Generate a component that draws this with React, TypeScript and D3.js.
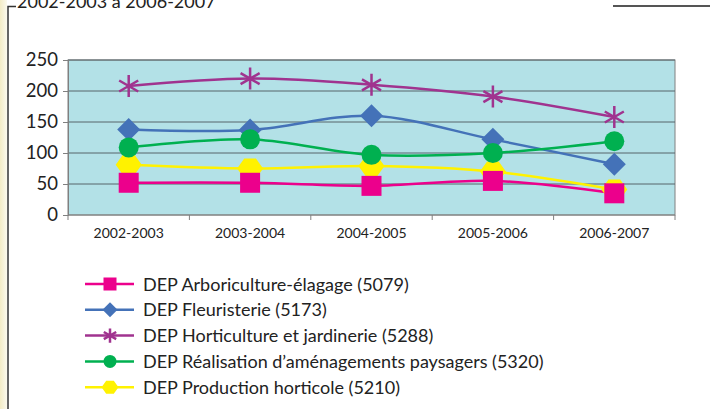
import React, { useEffect, useRef } from "react";
import * as d3 from "d3";

const years = ["2002-2003", "2003-2004", "2004-2005", "2005-2006", "2006-2007"];
const arbori = [52, 52, 47, 55, 35];
const fleur = [138, 137, 160, 122, 82];
const horti = [208, 220, 210, 191, 158];
const amenag = [109, 122, 97, 100, 119];
const prod = [81, 75, 79, 70, 41];
const yTicks = [0, 50, 100, 150, 200, 250];

const series = [
  { name: "DEP Arboriculture-élagage (5079)", values: arbori, color: "#ec008c", shape: "square" },
  { name: "DEP Fleuristerie (5173)", values: fleur, color: "#4472b8", shape: "diamond" },
  { name: "DEP Horticulture et jardinerie (5288)", values: horti, color: "#a0338f", shape: "star" },
  { name: "DEP Réalisation d’aménagements paysagers (5320)", values: amenag, color: "#00b050", shape: "circle" },
  { name: "DEP Production horticole (5210)", values: prod, color: "#fff200", shape: "hex" },
];

// which series is painted on top goes last
const drawOrder = [4, 1, 2, 3, 0];

function marker(g: any, shape: string, color: string, x: number, y: number, s: number) {
  if (shape === "square") {
    g.append("rect").attr("x", x - s).attr("y", y - s).attr("width", s * 2).attr("height", s * 2).attr("fill", color);
  } else if (shape === "diamond") {
    const r = s * 1.15;
    g.append("path").attr("d", `M${x},${y - r}L${x + r},${y}L${x},${y + r}L${x - r},${y}Z`).attr("fill", color);
  } else if (shape === "circle") {
    g.append("circle").attr("cx", x).attr("cy", y).attr("r", s).attr("fill", color);
  } else if (shape === "hex") {
    const w = s * 1.3, h = s;
    g.append("path")
      .attr("d", `M${x - w},${y}L${x - w * 0.45},${y - h}L${x + w * 0.45},${y - h}L${x + w},${y}L${x + w * 0.45},${y + h}L${x - w * 0.45},${y + h}Z`)
      .attr("fill", color);
  } else {
    const r = s * 1.1;
    const p = [0, 60, 120].map((a) => {
      const t = (a * Math.PI) / 180;
      return `M${x - r * Math.sin(t)},${y - r * Math.cos(t)}L${x + r * Math.sin(t)},${y + r * Math.cos(t)}`;
    });
    g.append("path").attr("d", p.join("")).attr("stroke", color).attr("stroke-width", 2.5).attr("fill", "none");
  }
}

export default function App() {
  const ref = useRef<SVGSVGElement>(null);

  useEffect(() => {
    const svg = d3.select(ref.current);
    svg.selectAll("*").remove();

    const left = 68, right = 675, top = 60, bottom = 215;
    const x = d3.scaleBand().domain(years).range([left, right]);
    const y = d3.scaleLinear().domain([0, 250]).range([bottom, top]);
    const font = "Lato, 'Liberation Sans', sans-serif";

    // page decoration
    const grad = svg.append("defs").append("linearGradient").attr("id", "edge").attr("x1", 0).attr("x2", 1);
    grad.append("stop").attr("offset", 0).attr("stop-color", "#f3ecc6");
    grad.append("stop").attr("offset", 1).attr("stop-color", "#fbf9ee");
    svg.append("rect").attr("x", 0).attr("y", 0).attr("width", 7).attr("height", 409).attr("fill", "url(#edge)");
    svg.append("path").attr("d", "M8,409V6.5H16").attr("stroke", "#333").attr("stroke-width", 1.5).attr("fill", "none");
    svg.append("line").attr("x1", 613).attr("x2", 710).attr("y1", 6).attr("y2", 6).attr("stroke", "#555").attr("stroke-width", 2);
    svg.append("text").attr("x", 17).attr("y", 8).attr("font-family", font).attr("font-size", 18)
      .attr("fill", "#222").text("2002-2003 à 2006-2007");

    // plot area
    svg.append("rect").attr("x", left).attr("y", top).attr("width", right - left).attr("height", bottom - top)
      .attr("fill", "#b3e1e7").attr("stroke", "#808080").attr("stroke-width", 1);

    svg.append("g").selectAll("line").data(yTicks.slice(1)).join("line")
      .attr("x1", left).attr("x2", right).attr("y1", (d) => y(d)).attr("y2", (d) => y(d))
      .attr("stroke", "#56656a").attr("stroke-width", 1);

    const yAxis = svg.append("g").attr("transform", `translate(${left},0)`)
      .call(d3.axisLeft(y).tickValues(yTicks).tickSize(5).tickPadding(5));
    yAxis.select(".domain").attr("stroke", "#808080");
    yAxis.selectAll(".tick line").attr("stroke", "#808080");
    yAxis.selectAll("text").attr("font-family", font).attr("font-size", 18.5).attr("fill", "#222");

    const xTickPos = years.map((d) => x(d) as number).concat([right]);
    svg.append("line").attr("x1", left).attr("x2", right).attr("y1", bottom).attr("y2", bottom).attr("stroke", "#808080");
    svg.append("g").selectAll("line").data(xTickPos).join("line")
      .attr("x1", (d) => d).attr("x2", (d) => d).attr("y1", bottom).attr("y2", bottom + 5).attr("stroke", "#808080");
    svg.append("g").selectAll("text").data(years).join("text")
      .attr("x", (d) => (x(d) as number) + x.bandwidth() / 2).attr("y", 238)
      .attr("text-anchor", "middle").attr("font-family", font).attr("font-size", 14).attr("fill", "#222")
      .text((d) => d);

    const cx = (i: number) => (x(years[i]) as number) + x.bandwidth() / 2;
    const line = d3.line<number>().x((_, i) => cx(i)).y((d) => y(d)).curve(d3.curveCatmullRom.alpha(0.5));

    drawOrder.forEach((k) => {
      const s = series[k];
      svg.append("path").attr("d", line(s.values)).attr("stroke", s.color).attr("stroke-width", 2.5).attr("fill", "none");
    });
    drawOrder.forEach((k) => {
      const s = series[k];
      const g = svg.append("g");
      s.values.forEach((v, i) => marker(g, s.shape, s.color, cx(i), y(v), 10));
    });

    // legend
    series.forEach((s, i) => {
      const ly = 284 + i * 25.8;
      const g = svg.append("g");
      g.append("line").attr("x1", 85).attr("x2", 134).attr("y1", ly).attr("y2", ly).attr("stroke", s.color).attr("stroke-width", 2.5);
      marker(g, s.shape, s.color, 110, ly, 6.5);
      g.append("text").attr("x", 143).attr("y", ly + 6.5).attr("font-family", font).attr("font-size", 18)
        .attr("fill", "#222").text(s.name);
    });
  }, []);

  return (
    <svg ref={ref} width={710} height={409} style={{ position: "absolute", left: 0, top: 0, background: "#fff" }} />
  );
}
